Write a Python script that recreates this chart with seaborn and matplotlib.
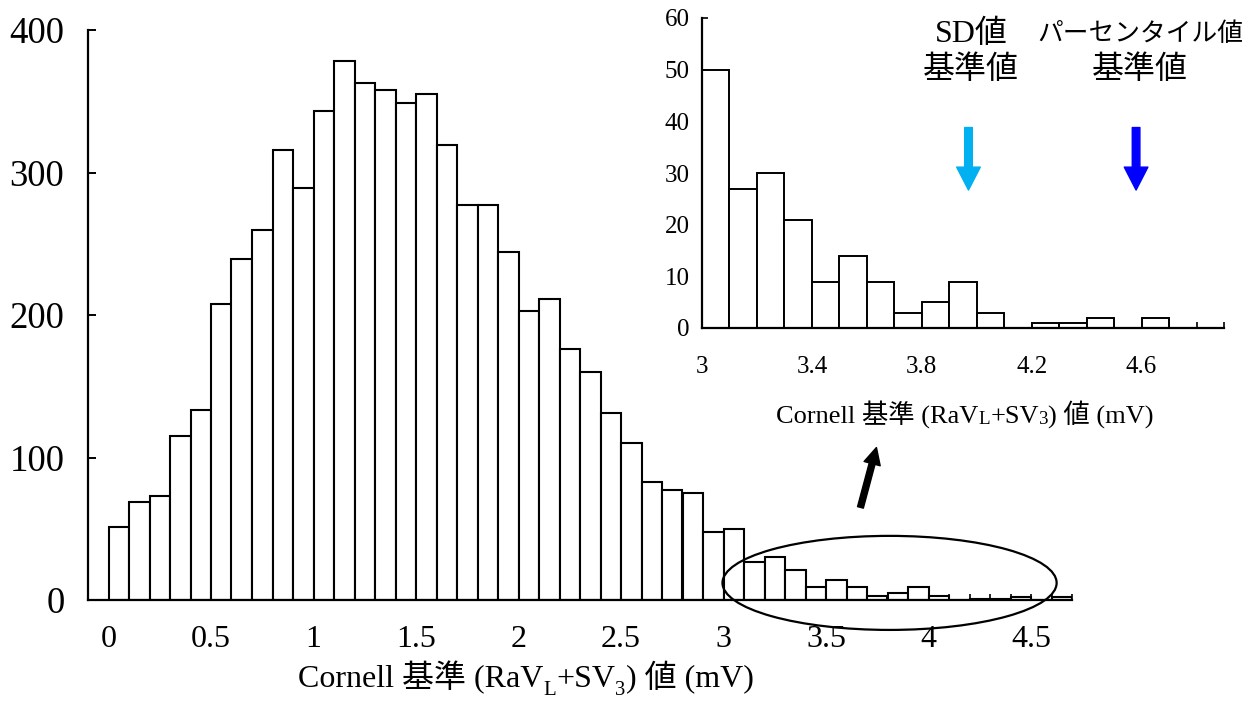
import numpy as np
import pandas as pd
import matplotlib
matplotlib.use("Agg")
import matplotlib.pyplot as plt
from matplotlib.patches import Ellipse
from matplotlib.ticker import FixedLocator, FuncFormatter
import seaborn as sns

# Cornell voltage histogram: counts per 0.1 mV bin, bins starting at 0.0 mV
bin_width = 0.1
bin_start = np.round(np.arange(0.0, 4.7, bin_width), 1)
counts = [51, 69, 73, 115, 133, 208, 239, 260, 316, 289,
          343, 378, 363, 358, 349, 355, 319, 277, 277, 244,
          203, 211, 176, 160, 131, 110, 83, 77, 75, 48,
          50, 27, 30, 21, 9, 14, 9, 3, 5, 9,
          3, 0, 1, 1, 2, 0, 2]

# Enlarged tail (3.0 mV and above)
tail_start = np.round(np.arange(3.0, 4.8, bin_width), 1)
tail_counts = [50, 27, 30, 21, 9, 14, 9, 3, 5, 9, 3, 0, 1, 1, 2, 0, 2, 0]

main_xticks = [0, 0.5, 1, 1.5, 2, 2.5, 3, 3.5, 4, 4.5]
main_yticks = [0, 100, 200, 300, 400]
inset_xticks = [3.0, 3.4, 3.8, 4.2, 4.6]
inset_yticks = [0, 10, 20, 30, 40, 50, 60]

# Reference values marked in the inset
sd_cutoff = 3.97
pct_cutoff = 4.58

# Axis titles split into (text, is_small) runs
xlabel_parts = [("Cornell 基準 (RaV", False), ("L", True), ("+SV", False),
                ("3", True), (") 値 (mV)", False)]

sns.set_style("white")
plt.rcParams["font.family"] = ["Liberation Serif", "Noto Sans CJK JP"]
plt.rcParams["text.color"] = "black"
plt.rcParams["axes.labelcolor"] = "black"
plt.rcParams["xtick.color"] = "black"
plt.rcParams["ytick.color"] = "black"
plt.rcParams["axes.edgecolor"] = "black"

W, H = 1255, 705
fig = plt.figure(figsize=(W / 100, H / 100), dpi=100)
fig.patch.set_facecolor("white")


def frac_box(x0, y0, x1, y1):
    return [x0 / W, 1 - y1 / H, (x1 - x0) / W, (y1 - y0) / H]


def run_label(host, cx, ybottom, parts, size, small_scale, small_drop):
    """Draw a label made of runs, small runs optionally dropped as subscripts,
    then centre the whole line on cx (figure pixels)."""
    first = fig.text(0, 1 - ybottom / H, parts[0][0], fontsize=size,
                     ha="left", va="bottom", color="black")
    pieces = [first]
    prev = first
    for txt, small in parts[1:]:
        fs = size * small_scale if small else size
        dy = -small_drop if small else 0
        t = host.annotate(txt, xy=(1, 0), xycoords=(prev, first),
                          xytext=(0, dy), textcoords="offset points",
                          fontsize=fs, ha="left", va="bottom", color="black",
                          annotation_clip=False)
        pieces.append(t)
        prev = t
    fig.canvas.draw()
    r = fig.canvas.get_renderer()
    x0 = min(p.get_window_extent(r).x0 for p in pieces)
    x1 = max(p.get_window_extent(r).x1 for p in pieces)
    width = x1 - x0
    first.set_x((cx - width / 2) / W)
    return pieces


main_df = pd.DataFrame({"mid": bin_start + bin_width / 2, "count": counts})
tail_df = pd.DataFrame({"mid": tail_start + bin_width / 2, "count": tail_counts})

ax = fig.add_axes(frac_box(88, 30, 1072, 600))
ax.set_facecolor("none")

edges = np.round(np.arange(0.0, 4.7 + bin_width / 2, bin_width), 1)
sns.histplot(data=main_df, x="mid", weights="count", bins=list(edges), ax=ax,
             color="white", edgecolor="black", linewidth=1.5, alpha=1)

ax.set_xlim(-0.1, 4.7)
ax.set_ylim(0, 400)
for s in ["top", "right"]:
    ax.spines[s].set_visible(False)
for s in ["left", "bottom"]:
    ax.spines[s].set_linewidth(1.6)
    ax.spines[s].set_color("black")

ax.xaxis.set_major_locator(FixedLocator(main_xticks))
ax.xaxis.set_major_formatter(FuncFormatter(lambda v, p: f"{v:g}"))
ax.xaxis.set_minor_locator(FixedLocator(edges))
ax.yaxis.set_major_locator(FixedLocator(main_yticks))
ax.tick_params(axis="x", which="both", direction="in", length=4, width=1.2,
               labelsize=23, pad=18, bottom=True, colors="black")
ax.tick_params(axis="y", direction="in", length=6, width=1.4,
               labelsize=26.5, pad=17, left=True, colors="black")
ax.set_ylabel("")
ax.set_xlabel("")

# Ellipse around the tail and arrow pointing to the inset
ax.add_patch(Ellipse((3.81, 12), 1.63, 66, fill=False, edgecolor="black",
                     linewidth=1.6, clip_on=False, zorder=5))
ax.annotate("", xy=(3.746, 107), xytext=(3.668, 65),
            arrowprops=dict(arrowstyle="simple,head_length=12,head_width=12,tail_width=4.3",
                            mutation_scale=1, color="black", shrinkA=0, shrinkB=0),
            annotation_clip=False)

# Inset: enlarged tail
axi = fig.add_axes(frac_box(702, 18, 1224, 328))
axi.set_facecolor("none")
tail_edges = np.round(np.arange(3.0, 4.8 + bin_width / 2, bin_width), 1)
sns.histplot(data=tail_df, x="mid", weights="count", bins=list(tail_edges), ax=axi,
             color="white", edgecolor="black", linewidth=1.4, alpha=1)
axi.set_xlim(3.0, 4.9)
axi.set_ylim(0, 60)
for s in ["top", "right"]:
    axi.spines[s].set_visible(False)
for s in ["left", "bottom"]:
    axi.spines[s].set_linewidth(1.6)
    axi.spines[s].set_color("black")
axi.xaxis.set_major_locator(FixedLocator(inset_xticks))
axi.xaxis.set_major_formatter(FuncFormatter(lambda v, p: f"{v:g}"))
axi.xaxis.set_minor_locator(FixedLocator(np.round(np.arange(3.0, 4.9 + bin_width / 2, bin_width), 1)))
axi.yaxis.set_major_locator(FixedLocator(inset_yticks))
axi.tick_params(axis="x", which="both", direction="in", length=4, width=1.2,
                labelsize=18, pad=20, bottom=True, colors="black")
axi.tick_params(axis="y", direction="in", length=4, width=1.2,
                labelsize=18, pad=9, left=True, colors="black")
axi.set_ylabel("")
axi.set_xlabel("")

arrow_style = "simple,head_length=16.5,head_width=17,tail_width=5.5"
axi.annotate("", xy=(sd_cutoff, 26.7), xytext=(sd_cutoff, 38.8),
             arrowprops=dict(arrowstyle=arrow_style, mutation_scale=1,
                             color="#00B0F0", shrinkA=0, shrinkB=0))
axi.annotate("", xy=(pct_cutoff, 26.7), xytext=(pct_cutoff, 38.8),
             arrowprops=dict(arrowstyle=arrow_style, mutation_scale=1,
                             color="#0000FF", shrinkA=0, shrinkB=0))

fig.text(971 / W, 1 - 34 / H, "SD値", fontsize=23, ha="center", va="center")
fig.text(971 / W, 1 - 70 / H, "基準値", fontsize=23, ha="center", va="center")
fig.text(1140 / W, 1 - 34 / H, "パーセンタイル値", fontsize=18.5, ha="center", va="center")
fig.text(1140 / W, 1 - 70 / H, "基準値", fontsize=23, ha="center", va="center")

# Axis titles
run_label(ax, 526, 694, xlabel_parts, 23, 0.65, 4)
run_label(axi, 965, 428, xlabel_parts, 19, 0.72, 0)

fig.savefig("out.png", dpi=100, facecolor="white")
